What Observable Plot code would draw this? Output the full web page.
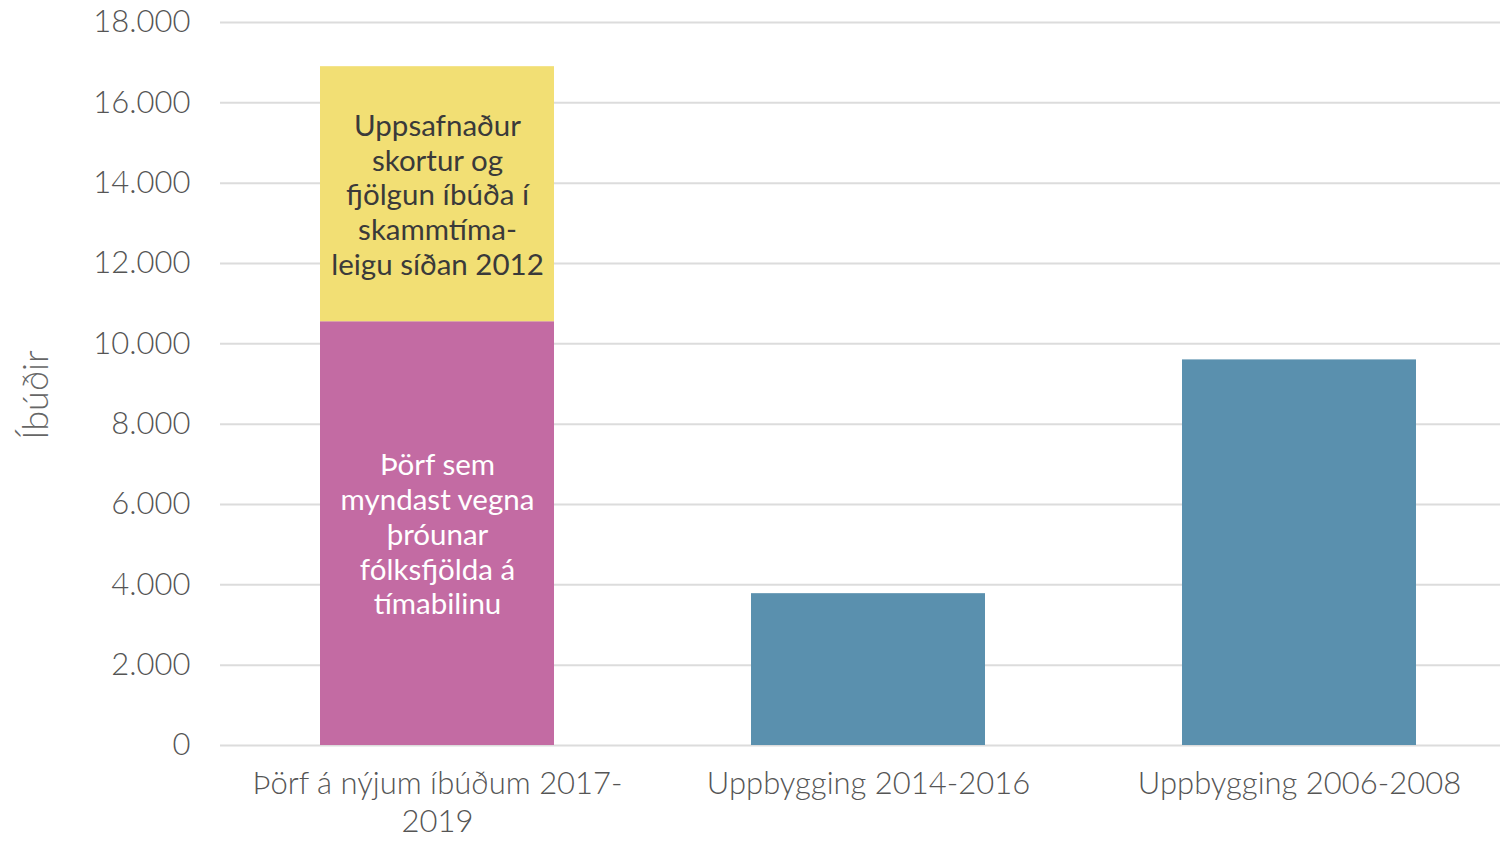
<!DOCTYPE html>
<html>
<head>
<meta charset="utf-8">
<script src="https://cdn.jsdelivr.net/npm/d3@7"></script>
<script src="https://cdn.jsdelivr.net/npm/@observablehq/plot@0.6"></script>
<style>
  html, body { margin: 0; padding: 0; background: white; }
  #chart svg { display: block; }
</style>
</head>
<body>
<div id="chart"></div>
<script>
// Categories (x axis)
const categories = ["Þörf á nýjum íbúðum 2017-2019", "Uppbygging 2014-2016", "Uppbygging 2006-2008"];
const tickLabels = ["Þörf á nýjum íbúðum 2017-\n2019", "Uppbygging 2014-2016", "Uppbygging 2006-2008"];

// Series (stack segments)
const seriesKeys = ["need", "shortage", "built"];
const seriesLabels = [
  "Þörf sem\nmyndast vegna\nþróunar\nfólksfjölda á\ntímabilinu",
  "Uppsafnaður\nskortur og\nfjölgun íbúða í\nskammtíma-\nleigu síðan 2012",
  ""
];
const needValues     = [10550, null, null];
const shortageValues = [6350, null, null];
const builtValues    = [null, 3780, 9600];

// Y ticks
const yTicks = [0, 2000, 4000, 6000, 8000, 10000, 12000, 14000, 16000, 18000];
const yLabel = "Íbúðir";

const seriesValues = [needValues, shortageValues, builtValues];
const rows = [];
seriesKeys.forEach((key, s) => {
  categories.forEach((cat, i) => {
    const v = seriesValues[s][i];
    if (v != null) rows.push({category: cat, key, value: v, label: seriesLabels[s]});
  });
});

const barColor = {need: "#C36BA3", shortage: "#F2DF74", built: "#5A90AE"};
const textColor = {need: "#ffffff", shortage: "#3a3a3a", built: "#ffffff"};
const fmt = d => d3.format(",")(d).replace(/,/g, ".");

const chart = Plot.plot({
  width: 1501,
  height: 843,
  marginLeft: 220,
  marginRight: 1,
  marginTop: 22,
  marginBottom: 98,
  style: {fontFamily: "Lato, 'Open Sans', sans-serif", background: "white"},
  x: {domain: categories, range: [220, 1515], paddingInner: 0.458, paddingOuter: 0.23},
  y: {domain: [0, 18000]},
  color: {type: "identity"},
  marks: [
    Plot.gridY(yTicks, {stroke: "#dcdcdc", strokeOpacity: 1, strokeWidth: 2}),
    Plot.axisY(yTicks, {tickSize: 0, tickPadding: 30, tickFormat: fmt, fontSize: 31, fill: "#555", fontWeight: 300, label: null}),
    Plot.axisX({tickSize: 0, tickPadding: 22, tickFormat: d => tickLabels[categories.indexOf(d)], fontSize: 31, fill: "#555", fontWeight: 300, lineHeight: 1.22, label: null}),
    Plot.barY(rows, {x: "category", y: "value", fill: d => barColor[d.key]}),
    Plot.text(rows, Plot.stackY({x: "category", y: "value", text: "label", fill: d => textColor[d.key], fontSize: 29.5, lineHeight: 1.18})),
    Plot.text([yLabel], {frameAnchor: "left", textAnchor: "middle", text: d => d, rotate: -90, dx: -184, dy: 11, fontSize: 36, fill: "#666", fontWeight: 300})
  ]
});
document.getElementById("chart").appendChild(chart);
</script>
</body>
</html>
